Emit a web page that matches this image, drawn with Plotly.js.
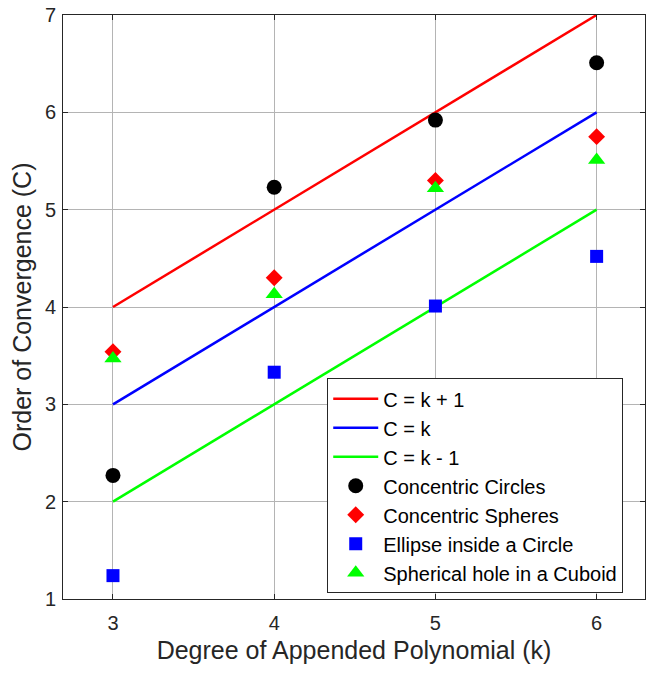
<!DOCTYPE html>
<html>
<head>
<meta charset="utf-8">
<script src="https://cdn.plot.ly/plotly-3.0.1.min.js"></script>
<style>html,body{margin:0;padding:0;background:#fff;}#chart{width:649px;height:675px;}</style>
</head>
<body>
<div id="chart"></div>
<script>
const k = [3, 4, 5, 6];
const lineKP1 = [4, 5, 6, 7];
const lineK = [3, 4, 5, 6];
const lineKM1 = [2, 3, 4, 5];
const concentricCircles = [2.27, 5.23, 5.92, 6.51];
const concentricSpheres = [3.54, 4.30, 5.30, 5.75];
const ellipseInCircle = [1.24, 3.33, 4.01, 4.52];
const sphericalHole = [3.47, 4.13, 5.22, 5.51];
const xTicks = [3, 4, 5, 6];
const yTicks = [1, 2, 3, 4, 5, 6, 7];

const FONT = 'Liberation Sans, Arial, sans-serif';

const traces = [
  {x: k, y: lineKP1, mode: 'lines', name: 'C = k + 1', line: {color: '#ff0000', width: 2.5}},
  {x: k, y: lineK, mode: 'lines', name: 'C = k', line: {color: '#0000ff', width: 2.5}},
  {x: k, y: lineKM1, mode: 'lines', name: 'C = k - 1', line: {color: '#00ff00', width: 2.5}},
  {x: k, y: concentricCircles, mode: 'markers', name: 'Concentric Circles', marker: {color: '#000000', symbol: 'circle', size: 15}},
  {x: k, y: concentricSpheres, mode: 'markers', name: 'Concentric Spheres', marker: {color: '#ff0000', symbol: 'diamond', size: 13}},
  {x: k, y: ellipseInCircle, mode: 'markers', name: 'Ellipse inside a Circle', marker: {color: '#0000ff', symbol: 'square', size: 13}},
  {x: k, y: sphericalHole, mode: 'markers', name: 'Spherical hole in a Cuboid', marker: {color: '#00ff00', symbol: 'triangle-up', size: 15}}
];

const axisCommon = {
  showgrid: true, gridcolor: '#b4b4b4', gridwidth: 1,
  showline: true, linecolor: '#262626', linewidth: 1, mirror: 'ticks',
  ticks: 'inside', ticklen: 5, tickcolor: '#262626',
  zeroline: false,
  tickfont: {family: FONT, size: 20, color: '#262626'}
};

const layout = {
  width: 649, height: 675,
  margin: {l: 63, r: 4, t: 15, b: 76},
  paper_bgcolor: '#ffffff', plot_bgcolor: '#ffffff',
  showlegend: true,
  xaxis: Object.assign({}, axisCommon, {
    range: [2.69, 6.3], tickvals: xTicks, ticktext: xTicks.map(String),
    ticklabelstandoff: 6,
    title: {text: 'Degree of Appended Polynomial (k)', font: {family: FONT, size: 25, color: '#262626'}, standoff: 8}
  }),
  yaxis: Object.assign({}, axisCommon, {
    range: [1, 7], tickvals: yTicks, ticktext: yTicks.map(String),
    ticklabelstandoff: 2,
    title: {text: 'Order of Convergence (C)', font: {family: FONT, size: 25, color: '#262626'}, standoff: 6}
  }),
  legend: {
    x: 0.454, y: 0.378, xanchor: 'left', yanchor: 'top',
    bgcolor: '#ffffff', bordercolor: '#262626', borderwidth: 1,
    font: {family: FONT, size: 20, color: '#000000'},
    itemwidth: 45, traceorder: 'normal'
  }
};

Plotly.newPlot('chart', traces, layout, {displayModeBar: false, staticPlot: true});
</script>
</body>
</html>
